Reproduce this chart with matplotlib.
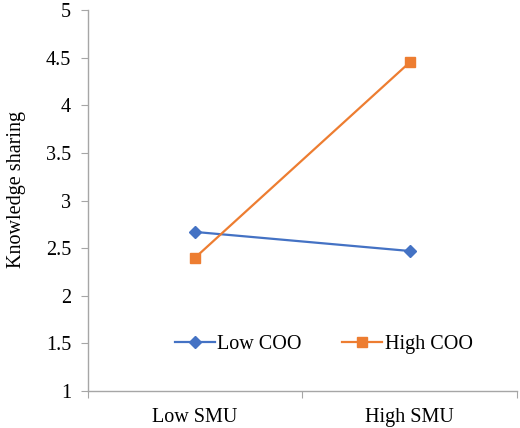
import matplotlib
matplotlib.use('Agg')
import matplotlib.pyplot as plt

categories = ["Low SMU", "High SMU"]
low_coo = [2.67, 2.47]
high_coo = [2.40, 4.45]
y_ticks = [1, 1.5, 2, 2.5, 3, 3.5, 4, 4.5, 5]
y_labels = ["1", "1.5", "2", "2.5", "3", "3.5", "4", "4.5", "5"]

plt.rcParams['font.family'] = ['Liberation Serif', 'DejaVu Serif']
plt.rcParams['font.size'] = 14.5

fig = plt.figure(figsize=(5.2, 4.28), dpi=100)
ax = fig.add_axes([0.169, 0.0865, 0.825, 0.89])

x = list(range(len(categories)))
ax.plot(x, low_coo, color='#4472C4', marker='D', markersize=6.5, linewidth=1.6, label='Low COO')
ax.plot(x, high_coo, color='#ED7D31', marker='s', markersize=6.5, linewidth=1.6, label='High COO')

ax.set_ylim(1, 5)
ax.set_yticks(y_ticks)
ax.set_yticklabels(y_labels)
ax.set_xlim(-0.5, len(categories) - 0.5)
ax.set_xticks([i - 0.5 for i in range(len(categories) + 1)])
ax.set_xticklabels([])
ax.set_xticks(x, minor=True)
ax.set_xticklabels(categories, minor=True)
ax.tick_params(axis='x', which='minor', length=0, pad=12)
ax.tick_params(axis='x', which='major', length=5, color='#A6A6A6', direction='out')
ax.tick_params(axis='y', length=5, color='#A6A6A6', pad=7)

for side in ['top', 'right']:
    ax.spines[side].set_visible(False)
for side in ['left', 'bottom']:
    ax.spines[side].set_color('#A6A6A6')
    ax.spines[side].set_linewidth(1.0)

ax.set_ylabel("Knowledge sharing")
ax.yaxis.set_label_coords(-0.145, 0.53)

ax.legend(loc='center', bbox_to_anchor=(0.55, 0.123), ncol=2, frameon=False,
          handlelength=2.0, handletextpad=0.1, columnspacing=2.0)

fig.savefig('out.png', dpi=100)
